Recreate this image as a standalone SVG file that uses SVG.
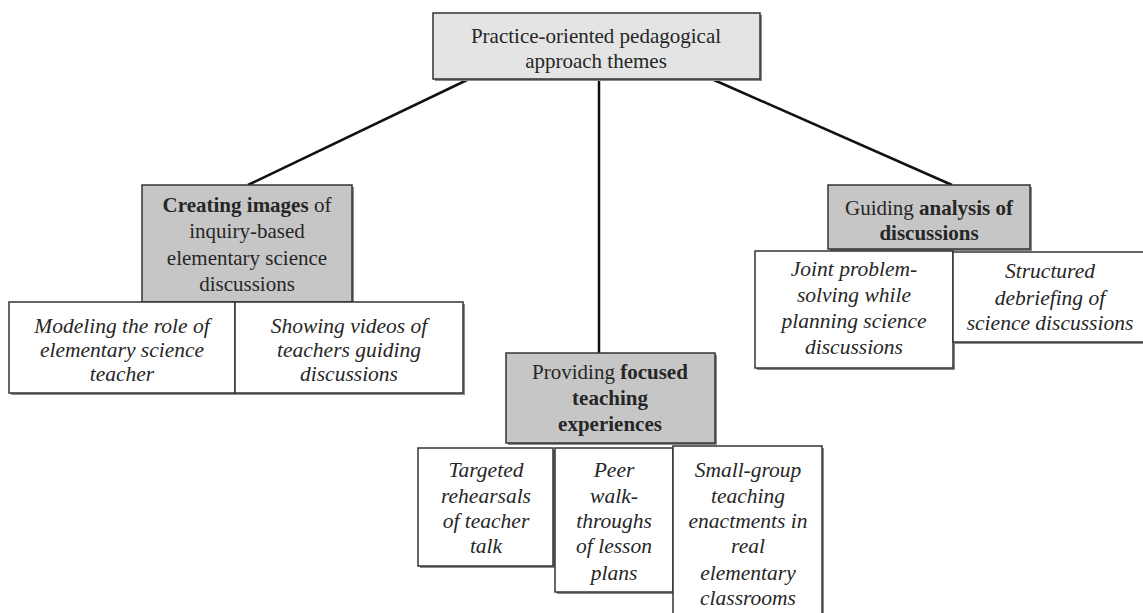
<svg xmlns="http://www.w3.org/2000/svg" width="1143" height="613" viewBox="0 0 1143 613">
  <defs>
    <style>
      .box { stroke: #333; stroke-width: 1.5; }
      .shadow { fill: #8a8a8a; }
      .root { fill: #e4e4e4; }
      .theme { fill: #c6c6c6; }
      .leaf { fill: #ffffff; }
      text { font-family: "Liberation Serif", "Times New Roman", serif; font-size: 21px; fill: #262626; text-anchor: middle; }
      .it { font-style: italic; font-size: 21.5px; }
      .b { font-weight: bold; }
      .conn { stroke: #111; stroke-width: 2.5; fill: none; }
    </style>
  </defs>
  <rect width="1143" height="613" fill="#ffffff"/>

  <!-- connectors from the root to each theme -->
  <g id="connectors">
    <line class="conn" x1="467" y1="80" x2="248" y2="185"/>
    <line class="conn" x1="599" y1="79" x2="599" y2="353"/>
    <line class="conn" x1="714" y1="80" x2="952" y2="185"/>
  </g>

  <g id="root">
    <rect class="shadow" x="435" y="15" width="327" height="66"/>
    <rect class="box root" x="433" y="13" width="327" height="66"/>
    <text x="596" y="43">Practice-oriented pedagogical</text>
    <text x="596" y="68">approach themes</text>
  </g>

  <g id="theme-images">
    <rect class="shadow" x="144" y="187" width="210" height="117"/>
    <rect class="box theme" x="142" y="185" width="210" height="117"/>
    <text x="247" y="212"><tspan class="b">Creating images</tspan> of</text>
    <text x="247" y="238">inquiry-based</text>
    <text x="247" y="265">elementary science</text>
    <text x="247" y="291">discussions</text>
  </g>

  <g id="leaf-modeling">
    <rect class="shadow" x="11" y="304" width="226" height="91"/>
    <rect class="box leaf" x="9" y="302" width="226" height="91"/>
    <text class="it" x="122" y="333">Modeling the role of</text>
    <text class="it" x="122" y="357">elementary science</text>
    <text class="it" x="122" y="381">teacher</text>
  </g>

  <g id="leaf-videos">
    <rect class="shadow" x="237" y="304" width="228" height="91"/>
    <rect class="box leaf" x="235" y="302" width="228" height="91"/>
    <text class="it" x="349" y="333">Showing videos of</text>
    <text class="it" x="349" y="357">teachers guiding</text>
    <text class="it" x="349" y="381">discussions</text>
  </g>

  <g id="theme-teaching">
    <rect class="shadow" x="508" y="355" width="209" height="90"/>
    <rect class="box theme" x="506" y="353" width="209" height="90"/>
    <text x="610" y="379">Providing <tspan class="b">focused</tspan></text>
    <text class="b" x="610" y="405">teaching</text>
    <text class="b" x="610" y="431">experiences</text>
  </g>

  <g id="leaf-rehearsals">
    <rect class="shadow" x="420" y="450" width="135" height="118"/>
    <rect class="box leaf" x="418" y="448" width="135" height="118"/>
    <text class="it" x="486" y="477">Targeted</text>
    <text class="it" x="486" y="503">rehearsals</text>
    <text class="it" x="486" y="528">of teacher</text>
    <text class="it" x="486" y="553">talk</text>
  </g>

  <g id="leaf-walkthroughs">
    <rect class="shadow" x="557" y="450" width="118" height="144"/>
    <rect class="box leaf" x="555" y="448" width="118" height="144"/>
    <text class="it" x="614" y="477">Peer</text>
    <text class="it" x="614" y="503">walk-</text>
    <text class="it" x="614" y="528">throughs</text>
    <text class="it" x="614" y="553">of lesson</text>
    <text class="it" x="614" y="580">plans</text>
  </g>

  <g id="leaf-enactments">
    <rect class="shadow" x="675" y="448" width="149" height="180"/>
    <rect class="box leaf" x="673" y="446" width="149" height="180"/>
    <text class="it" x="748" y="477">Small-group</text>
    <text class="it" x="748" y="503">teaching</text>
    <text class="it" x="748" y="528">enactments in</text>
    <text class="it" x="748" y="553">real</text>
    <text class="it" x="748" y="580">elementary</text>
    <text class="it" x="748" y="605">classrooms</text>
  </g>

  <g id="theme-analysis">
    <rect class="shadow" x="830" y="187" width="202" height="64"/>
    <rect class="box theme" x="828" y="185" width="202" height="64"/>
    <text x="929" y="215">Guiding <tspan class="b">analysis of</tspan></text>
    <text class="b" x="929" y="240">discussions</text>
  </g>

  <g id="leaf-joint">
    <rect class="shadow" x="757" y="253" width="198" height="117"/>
    <rect class="box leaf" x="755" y="251" width="198" height="117"/>
    <text class="it" x="854" y="276">Joint problem-</text>
    <text class="it" x="854" y="302">solving while</text>
    <text class="it" x="854" y="328">planning science</text>
    <text class="it" x="854" y="354">discussions</text>
  </g>

  <g id="leaf-debriefing">
    <rect class="shadow" x="955" y="254" width="200" height="90"/>
    <rect class="box leaf" x="953" y="252" width="200" height="90"/>
    <text class="it" x="1050" y="278">Structured</text>
    <text class="it" x="1050" y="305">debriefing of</text>
    <text class="it" x="1050" y="330">science discussions</text>
  </g>
</svg>
